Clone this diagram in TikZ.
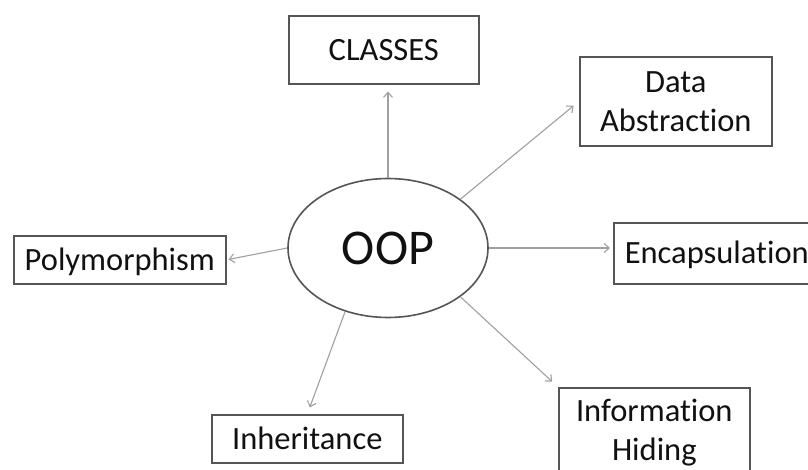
\documentclass[tikz,border=0pt]{standalone}
\usepackage{fontspec}
\setmainfont{Carlito}[Ligatures=CommonOff]
\usetikzlibrary{shapes.geometric,arrows.meta}
\definecolor{boxline}{HTML}{555555}
\definecolor{arrline}{HTML}{A0A0A0}
\definecolor{txt}{HTML}{111111}
\begin{document}
\begin{tikzpicture}[x=1pt,y=-1pt,
  box/.style={draw=boxline,line width=1.6pt,text=txt,font=\fontsize{32.5}{39}\selectfont,inner sep=0pt,align=center,anchor=north west},
  oneline/.style={text height=21pt,text depth=0pt},
  arr/.style={draw=arrline,line width=1.1pt,-{Straight Barb[length=5pt,width=9pt]}}]
\useasboundingbox (0,0) rectangle (808,470);
\fill[white] (0,0) rectangle (808,470);
\node[draw=boxline,line width=1.6pt,ellipse,minimum width=200pt,minimum height=139pt,inner sep=0pt,font=\fontsize{50}{50}\selectfont,text=txt] (oop) at (388,248) {OOP};
\node[box,oneline,minimum width=190pt,minimum height=68pt] (cls) at (288,15) {CLASSES};
\node[box,minimum width=192pt,minimum height=89pt] (da) at (579,56) {Data\\Abstraction};
\node[box,oneline,minimum height=61pt,inner xsep=11pt] (enc) at (613,222) {Encapsulation};
\node[box,oneline,minimum width=212pt,minimum height=48pt] (poly) at (13,235) {Polymorphism};
\node[box,oneline,minimum width=191pt,minimum height=48pt] (inh) at (211,414) {Inheritance};
\node[box,minimum width=191pt,minimum height=90pt] (ih) at (558,387) {Information\\Hiding};
\draw[arr,shorten >=7pt] (oop.north) -- (oop.north |- cls.south);
\draw[arr,shorten >=7pt] (oop.34) -- (da.west);
\draw[arr,shorten >=3pt] (oop.east) -- (oop.east -| enc.west);
\draw[arr,shorten >=2pt] (oop.west) -- (poly.east);
\draw[arr,shorten >=7pt] (oop.236) -- (inh.north);
\draw[arr,shorten >=8pt] (oop.326) -- (ih.north west);
\end{tikzpicture}
\end{document}
